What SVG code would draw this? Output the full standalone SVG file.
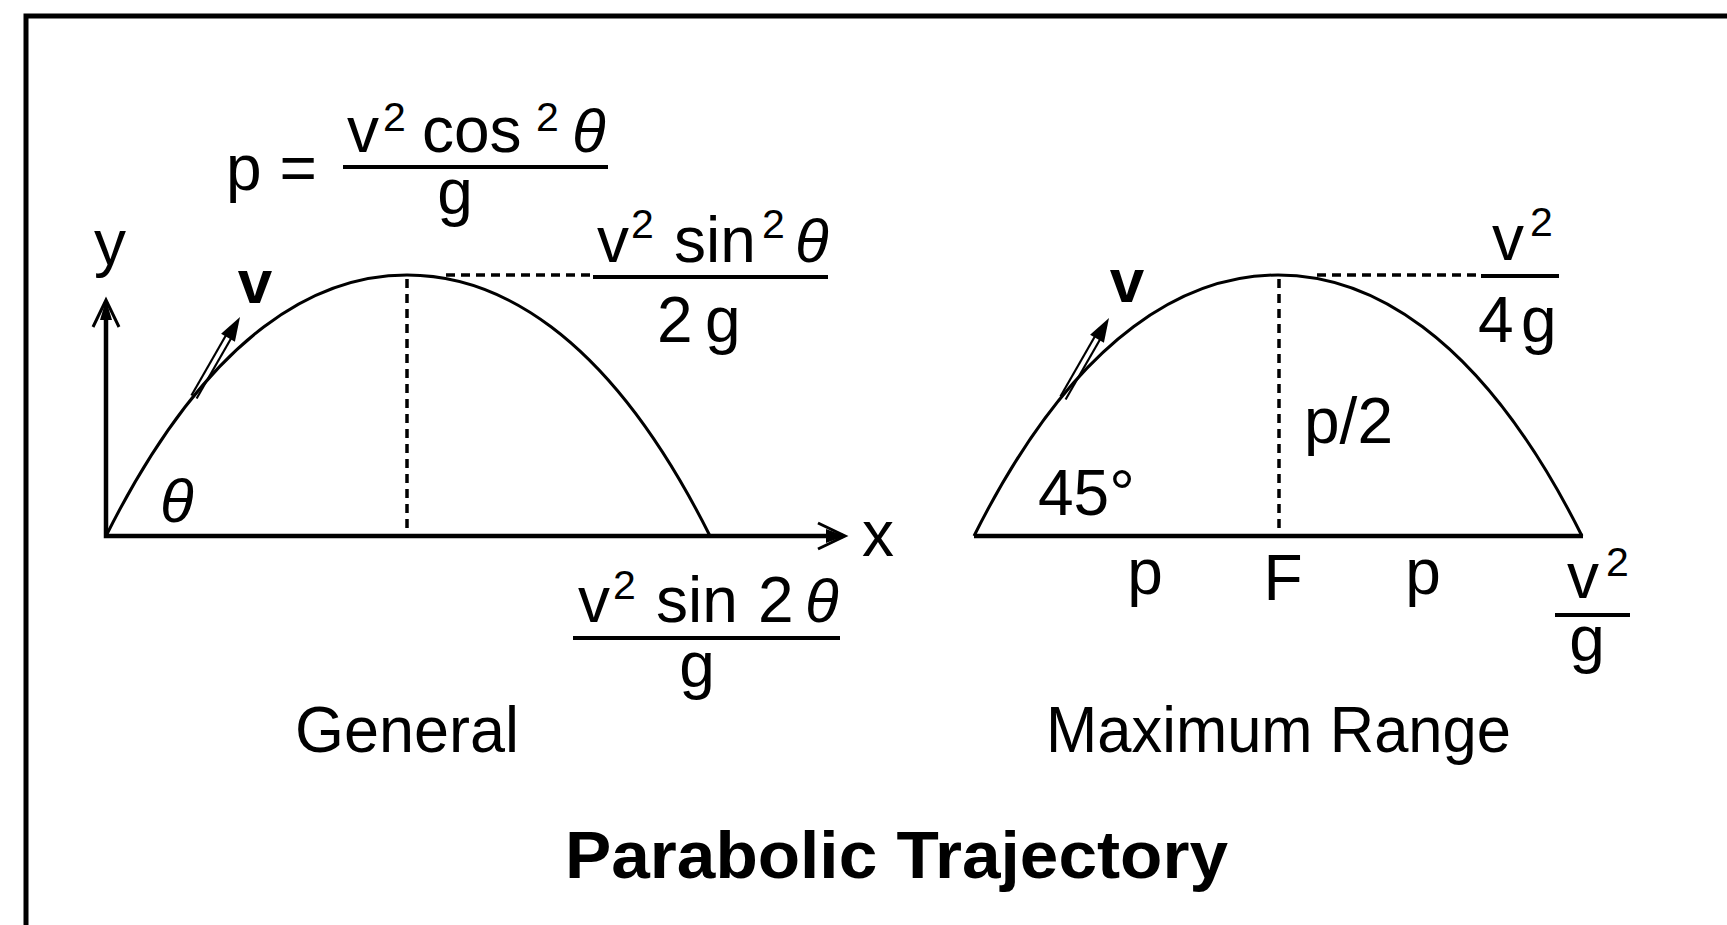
<svg xmlns="http://www.w3.org/2000/svg" width="1727" height="925" viewBox="0 0 1727 925">
<style>
.t{font-family:"Liberation Sans",Arial,sans-serif;font-size:64px;fill:#000}
.s{font-family:"Liberation Sans",Arial,sans-serif;font-size:41px;fill:#000}
.th{font-family:"Liberation Sans",Arial,sans-serif;font-size:62px;font-style:italic;fill:#000}
.b{font-family:"Liberation Sans",Arial,sans-serif;font-size:62px;font-weight:bold;fill:#000}
.ax{stroke:#000;stroke-width:4.5;fill:none}
.cv{stroke:#000;stroke-width:3;fill:none}
.ds{stroke:#000;stroke-width:3.5;fill:none;stroke-dasharray:9 6}
.fl{stroke:#000;stroke-width:4}
</style>
<defs>
<g id="vel">
<line x1="196.6" y1="398.5" x2="231.6" y2="337.5" stroke="#000" stroke-width="2.2"/>
<line x1="191.4" y1="395.5" x2="226.4" y2="334.5" stroke="#000" stroke-width="2.2"/>
<polygon points="240,317 234.9,341.8 221.1,333.8" fill="#000"/>
</g>
</defs>
<rect x="0" y="0" width="1727" height="925" fill="#fff"/>
<path id="frame" d="M26,925 L26,16 L1727,16" stroke="#000" stroke-width="5" fill="none"/>

<g id="general">
<g id="axes">
<path class="ax" d="M106,302 L106,536 L843,536"/>
<path d="M818,523 L845,536 L818,549" stroke="#000" stroke-width="3" fill="none"/>
<polygon points="826,529 845,536 826,543" fill="#000"/>
<path d="M93,327 L106,300 L119,327" stroke="#000" stroke-width="3" fill="none"/>
<polygon points="100,320 106,300 112,320" fill="#000"/>
<text class="t" x="110" y="265" text-anchor="middle">y</text>
<text class="t" x="862" y="556">x</text>
</g>
<g id="general-trajectory">
<path class="cv" d="M106,536 C211,326 322,275 407,275 C492,275 605,326 710,536"/>
<line class="ds" x1="407" y1="279" x2="407" y2="536"/>
<line class="ds" x1="446" y1="275" x2="593" y2="275"/>
<use href="#vel"/>
<text class="b" x="255" y="303" text-anchor="middle">v</text>
<text class="th" x="160" y="522">θ</text>
</g>
<g id="formula-p">
<text class="t" x="226" y="190">p =</text>
<line class="fl" x1="343" y1="167" x2="608" y2="167"/>
<text class="t" x="347" y="152">v</text>
<text class="s" x="383" y="131">2</text>
<text class="t" x="422" y="152">cos</text>
<text class="s" x="536" y="131">2</text>
<text class="th" x="572" y="152">θ</text>
<text class="t" x="455" y="214" text-anchor="middle">g</text>
</g>
<g id="formula-height">
<line class="fl" x1="593" y1="277" x2="828" y2="277"/>
<text class="t" x="597" y="262">v</text>
<text class="s" x="631" y="238">2</text>
<text class="t" x="674" y="262">sin</text>
<text class="s" x="762" y="238">2</text>
<text class="th" x="795" y="262">θ</text>
<text class="t" x="657" y="342">2</text>
<text class="t" x="705" y="342">g</text>
</g>
<g id="formula-range">
<line class="fl" x1="573" y1="638" x2="840" y2="638"/>
<text class="t" x="578" y="622">v</text>
<text class="s" x="613" y="599">2</text>
<text class="t" x="656" y="622">sin</text>
<text class="t" x="758" y="622">2</text>
<text class="th" x="805" y="622">θ</text>
<text class="t" x="697" y="687" text-anchor="middle">g</text>
</g>
<text class="t" x="295" y="752" textLength="224" lengthAdjust="spacingAndGlyphs">General</text>
</g>

<g id="maximum-range">
<g id="max-trajectory">
<line class="ax" x1="974" y1="536" x2="1583" y2="536"/>
<path class="cv" d="M974,536 C1079,326 1193,275 1278,275 C1363,275 1477,326 1582,536"/>
<line class="ds" x1="1279" y1="279" x2="1279" y2="536"/>
<line class="ds" x1="1317" y1="275" x2="1481" y2="275"/>
<use href="#vel" transform="translate(869,1)"/>
<text class="b" x="1127" y="302" text-anchor="middle">v</text>
<text class="t" x="1038" y="515">45°</text>
<text class="t" x="1304" y="443">p/2</text>
</g>
<g id="axis-labels">
<text class="t" x="1145" y="594" text-anchor="middle">p</text>
<text class="t" x="1283" y="600" text-anchor="middle">F</text>
<text class="t" x="1423" y="594" text-anchor="middle">p</text>
</g>
<g id="formula-maxheight">
<line class="fl" x1="1481" y1="276" x2="1559" y2="276"/>
<text class="t" x="1492" y="260">v</text>
<text class="s" x="1530" y="236">2</text>
<text class="t" x="1478" y="342">4</text>
<text class="t" x="1521" y="342">g</text>
</g>
<g id="formula-maxrange">
<line class="fl" x1="1555" y1="615" x2="1630" y2="615"/>
<text class="t" x="1567" y="598">v</text>
<text class="s" x="1606" y="576">2</text>
<text class="t" x="1587" y="661" text-anchor="middle">g</text>
</g>
<text class="t" x="1046" y="752" textLength="465" lengthAdjust="spacingAndGlyphs">Maximum Range</text>
</g>

<text id="title" class="b" x="565" y="878" textLength="663" lengthAdjust="spacingAndGlyphs" style="font-size:67px">Parabolic Trajectory</text>
</svg>
